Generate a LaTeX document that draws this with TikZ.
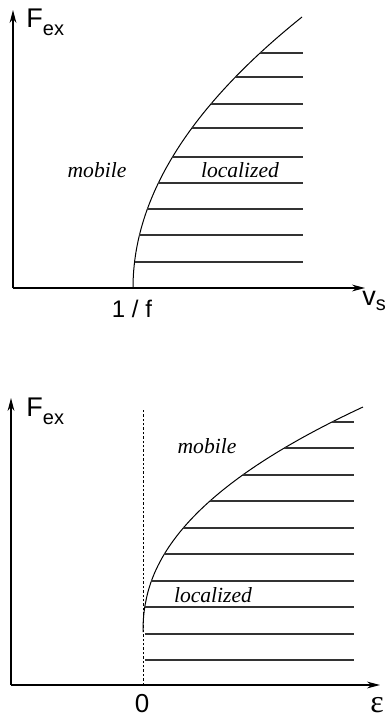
\documentclass[tikz,border=0pt]{standalone}
\usepackage{fontspec}
\newfontfamily\labelfont{Liberation Sans}
\newfontfamily\regionfont{Liberation Serif}
\usetikzlibrary{arrows.meta}
\newcommand{\sublab}[3]{#1\raisebox{-#3}{\fontsize{10}{11}\selectfont #2}}
\tikzset{
  >={Stealth[length=6.5pt,width=3.4pt]},
  axis/.style={->,line width=0.6pt},
  border/.style={line width=0.5pt},
  hatch/.style={line width=0.55pt,draw=black!80},
  guide/.style={line width=0.4pt,dash pattern=on 1.2pt off 1pt},
  axis label/.style={font=\labelfont\fontsize{12}{14}\selectfont,inner sep=0pt},
  region/.style={font=\regionfont\itshape\fontsize{10.8}{13}\selectfont,inner sep=0pt},
}

\begin{document}
\begin{tikzpicture}[x=0.5pt,y=-0.5pt]
  \useasboundingbox (0,0) rectangle (388,717);
  % upper panel: F_ex against v_s
  \coordinate (o1) at (13,288);
  \coordinate (ytip1) at (13,10);
  \coordinate (xtip1) at (365,288);
  \draw[axis] (o1) -- (ytip1);
  \draw[axis] (o1) -- (xtip1);
  \draw[border] plot[domain=0:271,samples=60] ({133+169*(\x/271)^2},{288-\x});
  \foreach \y in {53,77,104,128,157,183,209,235,262} {
    \pgfmathsetmacro\xl{133+169*((288-\y)/271)^2}
    \draw[hatch] (\xl,\y) -- (303,\y);
  }
  \node[axis label,font=\labelfont\fontsize{13.5}{15}\selectfont,anchor=base west] (fex1) at (26,28) {\sublab{F}{ex}{4pt}};
  \node[axis label,anchor=base] (inv) at (132,317) {1 / f};
  \node[axis label,font=\labelfont\fontsize{13.5}{15}\selectfont,anchor=base west] (vs) at (362,305) {\sublab{v}{s}{2.5pt}};
  \node[region,anchor=base] (mob1) at (97,177) {mobile};
  \node[region,anchor=base] (loc1) at (240,177) {localized};

  % lower panel: F_ex against epsilon
  \coordinate (o2) at (11,685);
  \coordinate (ytip2) at (11,398);
  \coordinate (xtip2) at (380,685);
  \coordinate (z0) at (143,685);
  \coordinate (ztop) at (143,408);
  \draw[axis] (o2) -- (ytip2);
  \draw[axis] (o2) -- (xtip2);
  \draw[guide] (z0) -- (ztop);
  \draw[border] (143,632) -- plot[domain=1:225,samples=70] ({143+220*(\x/225)^2.2},{632-\x});
  \foreach \y in {422,448,475,501,528,554,581,607,634,660} {
    \pgfmathsetmacro\xl{max(145,143+220*(max(632-\y,0.01)/225)^2.2)}
    \draw[hatch] (\xl,\y) -- (354,\y);
  }
  \node[axis label,font=\labelfont\fontsize{13.5}{15}\selectfont,anchor=base west] (fex2) at (26,416) {\sublab{F}{ex}{4pt}};
  \node[axis label,font=\labelfont\fontsize{13}{15}\selectfont,anchor=base] (zero) at (142,712) {0};
  \node[axis label,font=\regionfont\fontsize{16}{18}\selectfont,anchor=base] (eps) at (377,712) {ε};
  \node[region,anchor=base] (mob2) at (207,453) {mobile};
  \node[region,anchor=base] (loc2) at (213,602) {localized};
\end{tikzpicture}
\end{document}
